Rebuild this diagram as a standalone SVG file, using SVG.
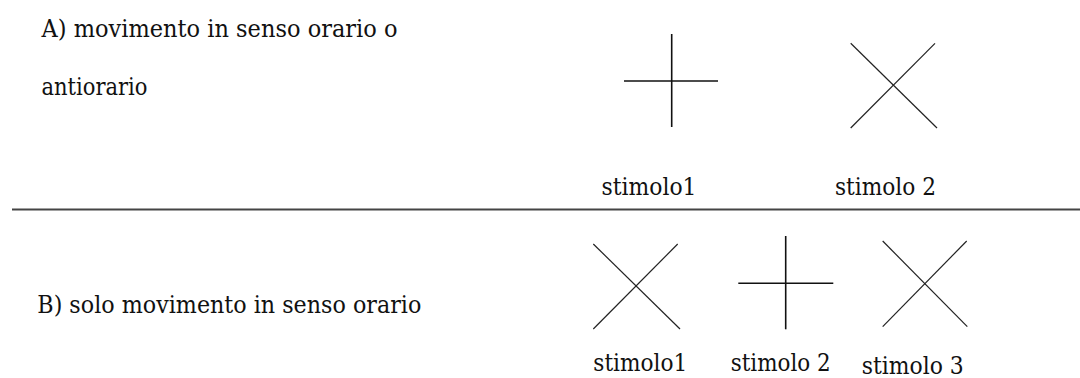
<svg xmlns="http://www.w3.org/2000/svg" width="1080" height="378" viewBox="0 0 1080 378">
<style>
.t{font-size:24px;fill:#111}
.plus{stroke:#111;stroke-width:1.6;fill:none}
.x{stroke:#222;stroke-width:1.2;fill:none}
.sep{stroke:#444;stroke-width:2}
</style>
<rect width="1080" height="378" fill="#fff"/>
<g font-family="'DejaVu Serif', 'Liberation Serif', serif">
<g id="sectionA">
<text class="t" x="41.5" y="37" textLength="356" lengthAdjust="spacingAndGlyphs">A) movimento in senso orario o</text>
<text class="t" x="41.5" y="95" textLength="106" lengthAdjust="spacingAndGlyphs">antiorario</text>
</g>
<g id="A-stimolo1">
<line class="plus" x1="671.7" y1="34" x2="671.7" y2="127"/>
<line class="plus" x1="624" y1="81" x2="718" y2="81"/>
<text class="t" x="601.5" y="195" textLength="95" lengthAdjust="spacingAndGlyphs">stimolo1</text>
</g>
<g id="A-stimolo2">
<line class="x" x1="850.7" y1="43.3" x2="937" y2="128"/>
<line class="x" x1="935" y1="43.3" x2="850.7" y2="128"/>
<text class="t" x="835" y="195" textLength="101" lengthAdjust="spacingAndGlyphs">stimolo 2</text>
</g>
<line id="separator" class="sep" x1="12" y1="209.5" x2="1080" y2="209.5"/>
<g id="sectionB">
<text class="t" x="37.3" y="313" textLength="384" lengthAdjust="spacingAndGlyphs">B) solo movimento in senso orario</text>
</g>
<g id="B-stimolo1">
<line class="x" x1="593.3" y1="244" x2="680" y2="329"/>
<line class="x" x1="677.7" y1="244" x2="593.3" y2="329"/>
<text class="t" x="593.3" y="371" textLength="94" lengthAdjust="spacingAndGlyphs">stimolo1</text>
</g>
<g id="B-stimolo2">
<line class="plus" x1="785.7" y1="236" x2="785.7" y2="329.3"/>
<line class="plus" x1="738.3" y1="283.3" x2="833.3" y2="283.3"/>
<text class="t" x="730.7" y="371" textLength="100" lengthAdjust="spacingAndGlyphs">stimolo 2</text>
</g>
<g id="B-stimolo3">
<line class="x" x1="882.7" y1="241" x2="967.3" y2="326.7"/>
<line class="x" x1="966.7" y1="241" x2="882.7" y2="326.7"/>
<text class="t" x="861.7" y="374" textLength="102" lengthAdjust="spacingAndGlyphs">stimolo 3</text>
</g>
</g>
<g id="connectors"/>
</svg>
